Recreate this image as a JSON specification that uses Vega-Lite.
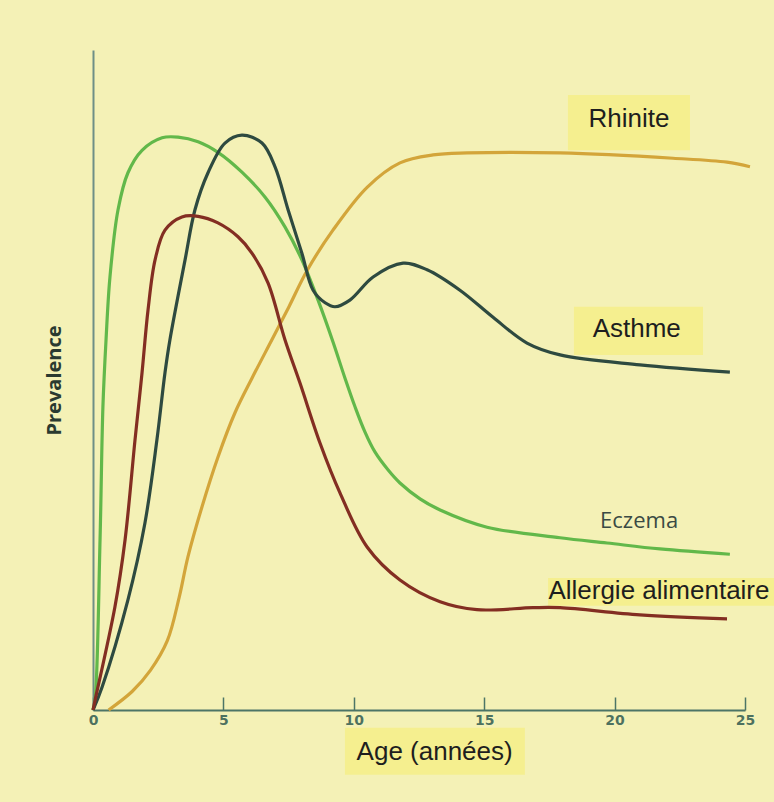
{
  "$schema": "https://vega.github.io/schema/vega-lite/v6.json",
  "autosize": {"type": "none"},
  "width": 652,
  "height": 660,
  "padding": {"left": 93, "top": 50, "right": 29, "bottom": 92},
  "background": "#F4F1B6",
  "config": {"view": {"stroke": null}},
  "datasets": {
    "curves": [
      {"series": "Eczema", "age": 0, "prev": 0},
      {"series": "Eczema", "age": 0.08, "prev": 1.5},
      {"series": "Eczema", "age": 0.27, "prev": 25.8},
      {"series": "Eczema", "age": 0.38, "prev": 45.9},
      {"series": "Eczema", "age": 0.5, "prev": 56.1},
      {"series": "Eczema", "age": 0.65, "prev": 65.6},
      {"series": "Eczema", "age": 0.96, "prev": 75.8},
      {"series": "Eczema", "age": 1.34, "prev": 81.4},
      {"series": "Eczema", "age": 1.88, "prev": 84.8},
      {"series": "Eczema", "age": 2.65, "prev": 86.7},
      {"series": "Eczema", "age": 3.26, "prev": 86.8},
      {"series": "Eczema", "age": 4.03, "prev": 86.1},
      {"series": "Eczema", "age": 4.79, "prev": 84.5},
      {"series": "Eczema", "age": 5.71, "prev": 81.5},
      {"series": "Eczema", "age": 6.6, "prev": 77.7},
      {"series": "Eczema", "age": 7.36, "prev": 73.2},
      {"series": "Eczema", "age": 8.01, "prev": 68.2},
      {"series": "Eczema", "age": 8.63, "prev": 62.1},
      {"series": "Eczema", "age": 9.2, "prev": 55.8},
      {"series": "Eczema", "age": 9.66, "prev": 50.3},
      {"series": "Eczema", "age": 10.05, "prev": 45.9},
      {"series": "Eczema", "age": 10.43, "prev": 42.1},
      {"series": "Eczema", "age": 10.81, "prev": 39.1},
      {"series": "Eczema", "age": 11.31, "prev": 36.4},
      {"series": "Eczema", "age": 11.77, "prev": 34.4},
      {"series": "Eczema", "age": 12.54, "prev": 32.0},
      {"series": "Eczema", "age": 13.31, "prev": 30.3},
      {"series": "Eczema", "age": 15.11, "prev": 27.7},
      {"series": "Eczema", "age": 17.91, "prev": 26.1},
      {"series": "Eczema", "age": 19.71, "prev": 25.3},
      {"series": "Eczema", "age": 21.74, "prev": 24.4},
      {"series": "Eczema", "age": 24.42, "prev": 23.6},

      {"series": "Rhinite", "age": 0.6, "prev": 0},
      {"series": "Rhinite", "age": 1.5, "prev": 2.8},
      {"series": "Rhinite", "age": 2.2, "prev": 6.0},
      {"series": "Rhinite", "age": 2.85, "prev": 10.5},
      {"series": "Rhinite", "age": 3.3, "prev": 17.0},
      {"series": "Rhinite", "age": 3.64, "prev": 23.2},
      {"series": "Rhinite", "age": 4.18, "prev": 30.8},
      {"series": "Rhinite", "age": 4.79, "prev": 38.3},
      {"series": "Rhinite", "age": 5.44, "prev": 45.0},
      {"series": "Rhinite", "age": 6.1, "prev": 50.3},
      {"series": "Rhinite", "age": 6.86, "prev": 56.1},
      {"series": "Rhinite", "age": 7.5, "prev": 61.0},
      {"series": "Rhinite", "age": 8.21, "prev": 66.6},
      {"series": "Rhinite", "age": 9.2, "prev": 72.7},
      {"series": "Rhinite", "age": 10.51, "prev": 79.2},
      {"series": "Rhinite", "age": 11.77, "prev": 82.9},
      {"series": "Rhinite", "age": 13.04, "prev": 84.1},
      {"series": "Rhinite", "age": 14.34, "prev": 84.4},
      {"series": "Rhinite", "age": 17.91, "prev": 84.4},
      {"series": "Rhinite", "age": 22.24, "prev": 83.6},
      {"series": "Rhinite", "age": 24.31, "prev": 83.0},
      {"series": "Rhinite", "age": 25.19, "prev": 82.3},

      {"series": "Asthme", "age": 0, "prev": 0},
      {"series": "Asthme", "age": 0.35, "prev": 3.5},
      {"series": "Asthme", "age": 1.34, "prev": 16.7},
      {"series": "Asthme", "age": 1.99, "prev": 28.3},
      {"series": "Asthme", "age": 2.45, "prev": 40.9},
      {"series": "Asthme", "age": 2.76, "prev": 51.1},
      {"series": "Asthme", "age": 2.95, "prev": 56.1},
      {"series": "Asthme", "age": 3.53, "prev": 68.2},
      {"series": "Asthme", "age": 3.91, "prev": 75.8},
      {"series": "Asthme", "age": 4.41, "prev": 81.4},
      {"series": "Asthme", "age": 5.06, "prev": 85.9},
      {"series": "Asthme", "age": 5.71, "prev": 87.1},
      {"series": "Asthme", "age": 6.48, "prev": 85.9},
      {"series": "Asthme", "age": 6.98, "prev": 82.3},
      {"series": "Asthme", "age": 7.48, "prev": 75.8},
      {"series": "Asthme", "age": 8.01, "prev": 69.2},
      {"series": "Asthme", "age": 8.44, "prev": 63.6},
      {"series": "Asthme", "age": 8.9, "prev": 61.7},
      {"series": "Asthme", "age": 9.28, "prev": 61.1},
      {"series": "Asthme", "age": 9.85, "prev": 62.1},
      {"series": "Asthme", "age": 10.74, "prev": 65.6},
      {"series": "Asthme", "age": 11.89, "prev": 67.7},
      {"series": "Asthme", "age": 12.81, "prev": 66.7},
      {"series": "Asthme", "age": 14.07, "prev": 63.6},
      {"series": "Asthme", "age": 15.34, "prev": 59.5},
      {"series": "Asthme", "age": 16.64, "prev": 55.6},
      {"series": "Asthme", "age": 17.91, "prev": 53.8},
      {"series": "Asthme", "age": 20.97, "prev": 52.3},
      {"series": "Asthme", "age": 24.42, "prev": 51.2},

      {"series": "Allergie", "age": 0, "prev": 0},
      {"series": "Allergie", "age": 0.08, "prev": 1.5},
      {"series": "Allergie", "age": 0.84, "prev": 15.6},
      {"series": "Allergie", "age": 1.23, "prev": 25.8},
      {"series": "Allergie", "age": 1.61, "prev": 40.9},
      {"series": "Allergie", "age": 1.88, "prev": 51.1},
      {"series": "Allergie", "age": 2.11, "prev": 60.6},
      {"series": "Allergie", "age": 2.38, "prev": 68.2},
      {"series": "Allergie", "age": 2.76, "prev": 72.7},
      {"series": "Allergie", "age": 3.41, "prev": 74.7},
      {"series": "Allergie", "age": 4.03, "prev": 74.8},
      {"series": "Allergie", "age": 4.79, "prev": 73.8},
      {"series": "Allergie", "age": 5.56, "prev": 71.7},
      {"series": "Allergie", "age": 6.1, "prev": 69.2},
      {"series": "Allergie", "age": 6.71, "prev": 64.7},
      {"series": "Allergie", "age": 7.36, "prev": 56.1},
      {"series": "Allergie", "age": 7.94, "prev": 49.5},
      {"series": "Allergie", "age": 8.7, "prev": 40.5},
      {"series": "Allergie", "age": 9.47, "prev": 32.9},
      {"series": "Allergie", "age": 10.51, "prev": 24.7},
      {"series": "Allergie", "age": 11.77, "prev": 19.7},
      {"series": "Allergie", "age": 13.31, "prev": 16.4},
      {"series": "Allergie", "age": 14.72, "prev": 15.2},
      {"series": "Allergie", "age": 16.87, "prev": 15.5},
      {"series": "Allergie", "age": 17.91, "prev": 15.5},
      {"series": "Allergie", "age": 20.97, "prev": 14.4},
      {"series": "Allergie", "age": 24.31, "prev": 13.8}
    ],
    "boxes": [
      {"name": "Rhinite", "x": 18.21, "x2": 22.89, "y": 93.2, "y2": 84.8},
      {"name": "Asthme", "x": 18.44, "x2": 23.39, "y": 61.1, "y2": 53.8},
      {"name": "Allergie", "x": 17.45, "x2": 26.12, "y": 20.0, "y2": 15.8},
      {"name": "Age", "x": 9.66, "x2": 16.56, "y": -2.7, "y2": -9.8}
    ],
    "labels": [
      {"label": "Rhinite", "x": 20.55, "y": 89.6},
      {"label": "Asthme", "x": 20.85, "y": 57.7},
      {"label": "Allergie alimentaire", "x": 21.7, "y": 18.0},
      {"label": "Age (années)", "x": 13.1, "y": -6.3}
    ]
  },
  "layer": [
    {
      "data": {"name": "boxes"},
      "mark": {"type": "rect", "color": "#F5EF8F", "clip": false},
      "encoding": {
        "x": {"field": "x", "type": "quantitative", "scale": {"domain": [0, 25], "nice": false, "zero": false},
          "axis": {"title": null, "values": [0, 5, 10, 15, 20, 25], "labelFlush": false, "domainColor": "#4C7566", "domainWidth": 2, "tickColor": "#4C7566", "tickWidth": 1.5, "tickSize": -13, "grid": false, "labelColor": "#2F5A50", "labelFont": "DejaVu Sans", "labelFontSize": 14, "labelFontWeight": "bold", "labelPadding": 16, "labelOpacity": 0.85}},
        "x2": {"field": "x2"},
        "y": {"field": "y", "type": "quantitative", "scale": {"domain": [0, 100], "nice": false, "zero": false},
          "axis": {"title": "Prevalence", "titleFont": "Open Sans", "titleFontSize": 20, "titleFontWeight": "bold", "titleColor": "#2A3A30", "titlePadding": 29, "labels": false, "ticks": false, "grid": false, "domainColor": "#6E8F86", "domainWidth": 2}},
        "y2": {"field": "y2"}
      }
    },
    {
      "data": {"name": "curves"},
      "mark": {"type": "line", "interpolate": "catmull-rom", "strokeWidth": 3.2, "clip": false},
      "encoding": {
        "x": {"field": "age", "type": "quantitative"},
        "y": {"field": "prev", "type": "quantitative"},
        "color": {"field": "series", "type": "nominal", "legend": null,
          "scale": {"domain": ["Rhinite", "Eczema", "Allergie", "Asthme"], "range": ["#D3A53A", "#62B84A", "#832E22", "#2E4A40"]}},
        "order": {"value": 0}
      }
    },
    {
      "data": {"name": "labels"},
      "mark": {"type": "text", "font": "Liberation Sans", "fontSize": 26, "color": "#1E1E1E", "align": "center", "baseline": "middle", "clip": false},
      "encoding": {
        "x": {"field": "x", "type": "quantitative"},
        "y": {"field": "y", "type": "quantitative"},
        "text": {"field": "label"}
      }
    },
    {
      "data": {"values": [{"label": "Eczema", "x": 20.94, "y": 28.6}]},
      "mark": {"type": "text", "font": "Open Sans", "fontSize": 22, "color": "#3A4A44", "align": "center", "baseline": "middle"},
      "encoding": {
        "x": {"field": "x", "type": "quantitative"},
        "y": {"field": "y", "type": "quantitative"},
        "text": {"field": "label"}
      }
    }
  ]
}
